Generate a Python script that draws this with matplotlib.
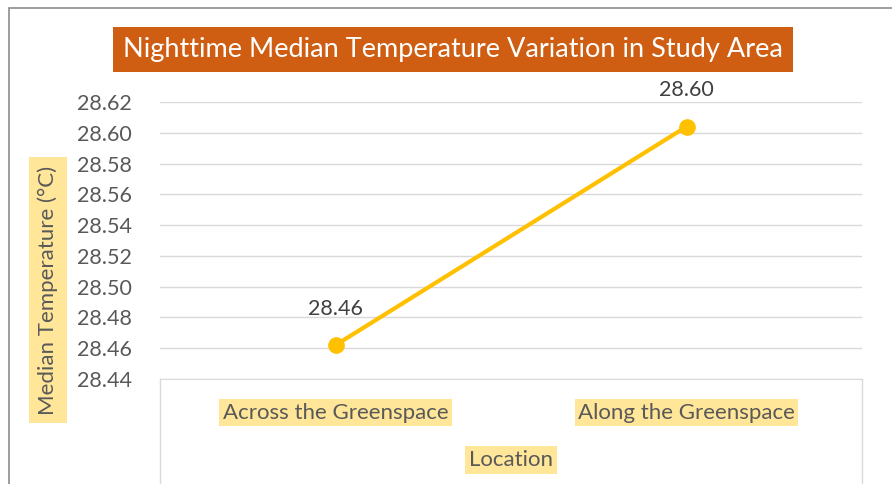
import matplotlib.pyplot as plt
from matplotlib.lines import Line2D
from matplotlib.patches import Rectangle

# data
locations = ["Across the Greenspace", "Along the Greenspace"]
median_temp = [28.462, 28.604]
point_labels = ["28.46", "28.60"]
y_ticks = [28.44, 28.46, 28.48, 28.50, 28.52, 28.54, 28.56, 28.58, 28.60, 28.62]

W, H = 892, 484
plt.rcParams['font.family'] = ['Lato', 'DejaVu Sans']

fig = plt.figure(figsize=(W / 100, H / 100), dpi=100)
ax = fig.add_axes([160 / W, 1 - 379 / H, 702 / W, 277 / H])

x = list(range(len(locations)))
ax.plot(x, median_temp, color="#FFC000", lw=3, marker="o", ms=11, zorder=3)
for xi, v, lab in zip(x, median_temp, point_labels):
    ax.annotate(lab, (xi, v), xytext=(0, 19), textcoords="offset points",
                ha="center", va="bottom", fontsize=15.5, color="#404040")

ax.set_xlim(-0.5, 1.5)
ax.set_ylim(28.44, 28.62)
ax.set_yticks(y_ticks)
ax.set_yticklabels([f"{t:.2f}" for t in y_ticks], fontsize=15.5, color="#595959")
ax.set_xticks(x)
ax.set_xticklabels(locations, fontsize=16, color="#595959")
for t in ax.get_xticklabels():
    t.set_bbox(dict(facecolor="#FFE699", edgecolor="none", pad=2.5))
ax.tick_params(axis="y", length=0, pad=20)
ax.tick_params(axis="x", length=0, pad=17)
ax.grid(axis="y", color="#D9D9D9", lw=1)
ax.set_axisbelow(True)
for s in ["top", "left", "right"]:
    ax.spines[s].set_visible(False)
ax.spines["bottom"].set_color("#D9D9D9")

# axis titles
fig.text(48 / W, 1 - 290 / H, "Median Temperature (°C)", rotation=90,
         ha="center", va="center", fontsize=16, color="#595959",
         bbox=dict(facecolor="#FFE699", edgecolor="none", pad=6))
fig.text(511 / W, 1 - 460 / H, "Location", ha="center", va="center",
         fontsize=16, color="#595959",
         bbox=dict(facecolor="#FFE699", edgecolor="none", pad=3))

# frame pieces below the plot area
for px in [160, 862]:
    fig.add_artist(Line2D([px / W, px / W], [0, 1 - 379 / H], color="#D9D9D9", lw=1))
fig.add_artist(Rectangle((9 / W, -0.1), 1.1, 1.1 - 8 / H, transform=fig.transFigure,
                         fill=False, edgecolor="#8C8C8C", lw=1.2))

fig.text(453 / W, 1 - 49.5 / H, "Nighttime Median Temperature Variation in Study Area",
         ha="center", va="center", fontsize=19.5, color="white",
         bbox=dict(facecolor="#CF5E12", edgecolor="none", pad=7))

fig.savefig("out.png", dpi=100)
